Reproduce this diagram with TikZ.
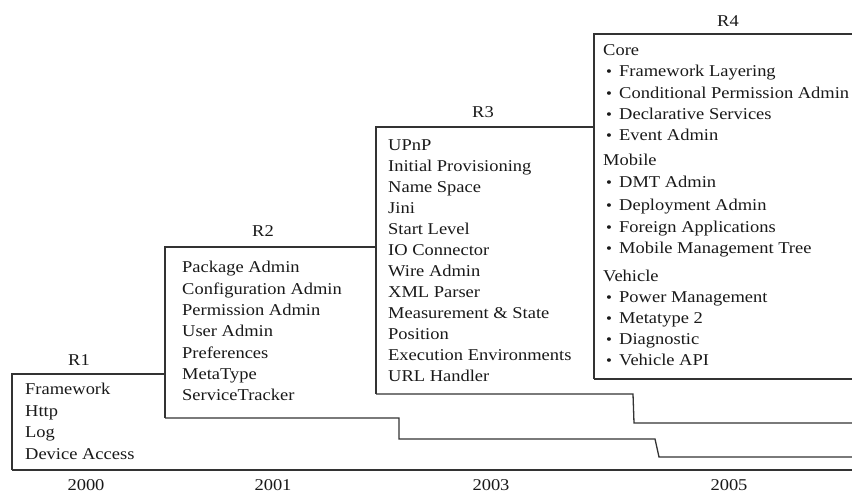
\documentclass[tikz,border=0pt]{standalone}
\usepackage{fontspec}
\setmainfont{Liberation Serif}[FakeStretch=1.12]
\begin{document}
\begin{tikzpicture}[x=1pt,y=-1pt,
  edge/.style={line width=1.3pt, draw=black!80, line join=miter},
  txt/.style={anchor=base west, inner sep=0pt, font=\fontsize{16.5}{19}\selectfont, text=black!90},
  lbl/.style={anchor=base, inner sep=0pt, font=\fontsize{16.5}{19}\selectfont, text=black!90}]
\useasboundingbox (0,0) rectangle (852,494);
% corners
\coordinate (r1bl) at (12,470); \coordinate (r1tl) at (12,374); \coordinate (r1tr) at (165,374);
\coordinate (r1br) at (852,470);
\coordinate (r2bl) at (165,418); \coordinate (r2tl) at (165,247); \coordinate (r2tr) at (376,247);
\coordinate (r2s1) at (399,418); \coordinate (r2s2) at (399,439); \coordinate (r2s3) at (655,439);
\coordinate (r2s4) at (659,457); \coordinate (r2br) at (852,457);
\coordinate (r3bl) at (376,394); \coordinate (r3tl) at (376,127); \coordinate (r3tr) at (594,127);
\coordinate (r3s1) at (633,394); \coordinate (r3s2) at (634,423); \coordinate (r3br) at (852,423);
\coordinate (r4bl) at (594,379); \coordinate (r4tl) at (594,34); \coordinate (r4tr) at (852,34);
\coordinate (r4br) at (852,379);
% outlines
\draw[edge] (r1bl) -- (r1tl) -- (r1tr);
\draw[edge] (r1bl) -- (r1br);
\draw[edge] (r2bl) -- (r2tl) -- (r2tr);
\draw[edge] (r2bl) -- (r2s1) -- (r2s2) -- (r2s3) -- (r2s4) -- (r2br);
\draw[edge] (r3bl) -- (r3tl) -- (r3tr);
\draw[edge] (r3bl) -- (r3s1) -- (r3s2) -- (r3br);
\draw[edge] (r4bl) -- (r4tl) -- (r4tr);
\draw[edge] (r4bl) -- (r4br);
% release labels
\node[lbl] (R1) at (79,366) {R1};
\node[lbl] (R2) at (263,237) {R2};
\node[lbl] (R3) at (483,118) {R3};
\node[lbl] (R4) at (728,27) {R4};
% years
\node[lbl] (y2000) at (86,490) {2000};
\node[lbl] (y2001) at (273,490) {2001};
\node[lbl] (y2003) at (491,490) {2003};
\node[lbl] (y2005) at (729,490) {2005};
% R1 items
\foreach \t/\y [count=\i] in {Framework/395, Http/416.5, Log/438, Device Access/460}
  \node[txt] (r1-\i) at (25,\y) {\t};
% R2 items
\foreach \t/\y [count=\i] in {Package Admin/273, Configuration Admin/294.3, Permission Admin/315.7,
  User Admin/337, Preferences/358.3, MetaType/379.7, ServiceTracker/401}
  \node[txt] (r2-\i) at (182,\y) {\t};
% R3 items
\foreach \t/\y [count=\i] in {UPnP/151, Initial Provisioning/172, Name Space/193, Jini/214,
  Start Level/235, IO Connector/256, Wire Admin/277, XML Parser/298,
  Measurement \& State/319, Position/340, Execution Environments/361, URL Handler/382}
  \node[txt] (r3-\i) at (388,\y) {\t};
% R4 group headers
\node[txt] (core) at (603,56) {Core};
\node[txt] (mobile) at (603,166) {Mobile};
\node[txt] (vehicle) at (603,282) {Vehicle};
% R4 bullets
\foreach \t/\y [count=\i] in {Framework Layering/77, Conditional Permission Admin/99,
  Declarative Services/120, Event Admin/141,
  DMT Admin/188, Deployment Admin/211, Foreign Applications/233, Mobile Management Tree/254,
  Power Management/303, Metatype 2/324, Diagnostic/345, Vehicle API/366}
  \node[txt] (r4-\i) at (606,\y) {\makebox[13pt][l]{\fontsize{15}{15}\selectfont•}\t};
\end{tikzpicture}
\end{document}
